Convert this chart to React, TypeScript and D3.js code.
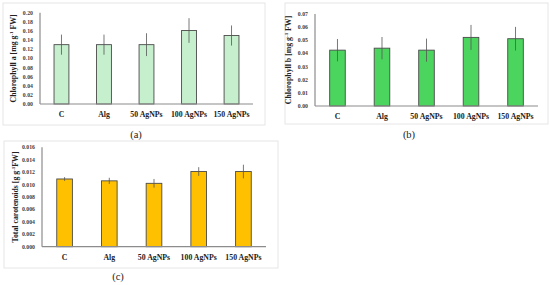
import React from "react";
import * as d3 from "d3";

const categories = ["C", "Alg", "50 AgNPs", "100 AgNPs", "150 AgNPs"];

const chlA = [0.13, 0.13, 0.13, 0.161, 0.15];
const chlAErr = [0.022, 0.022, 0.025, 0.027, 0.022];
const chlATicks = [0, 0.02, 0.04, 0.06, 0.08, 0.1, 0.12, 0.14, 0.16, 0.18, 0.2];

const chlB = [0.0425, 0.044, 0.0425, 0.0522, 0.0512];
const chlBErr = [0.0085, 0.0085, 0.0088, 0.0095, 0.009];
const chlBTicks = [0, 0.01, 0.02, 0.03, 0.04, 0.05, 0.06, 0.07];

const carot = [0.0109, 0.0106, 0.0102, 0.0121, 0.0121];
const carotErr = [0.0003, 0.0005, 0.0007, 0.0007, 0.0011];
const carotTicks = [0, 0.002, 0.004, 0.006, 0.008, 0.01, 0.012, 0.014, 0.016];

type PanelProps = {
  box: [number, number, number, number];
  x0: number;
  x1: number;
  yTop: number;
  yBottom: number;
  values: number[];
  errors: number[];
  ticks: number[];
  digits: number;
  fill: string;
  titleMain: string;
  titleSup: string;
  titleEnd: string;
  letter: string;
  letterX: number;
  letterY: number;
};

function Panel(p: PanelProps) {
  const max = p.ticks[p.ticks.length - 1];
  const x = d3.scaleBand().domain(categories).range([p.x0, p.x1]).paddingInner(0.65).paddingOuter(0.33);
  const y = d3.scaleLinear().domain([0, max]).range([p.yBottom, p.yTop]);
  const fmt = d3.format(`.${p.digits}f`);
  const midY = (p.yTop + p.yBottom) / 2;
  const titleX = p.x0 - 24;
  return (
    <g fontFamily="'Liberation Serif', 'DejaVu Serif', serif" fontWeight="bold">
      <rect x={p.box[0]} y={p.box[1]} width={p.box[2]} height={p.box[3]} fill="white" stroke="#e6e6e6" strokeWidth={1} />
      {p.ticks.map((t) => (
        <text key={t} x={p.x0 - 7} y={y(t)} dy="0.35em" textAnchor="end" fontSize={5.8} fill="#404040">
          {fmt(t)}
        </text>
      ))}
      {categories.map((c, i) => {
        const cx = (x(c) as number) + x.bandwidth() / 2;
        return (
          <g key={c}>
            <rect x={x(c)} y={y(p.values[i])} width={x.bandwidth()} height={p.yBottom - y(p.values[i])} fill={p.fill} stroke="#4a4a4a" strokeWidth={0.9} />
            <line x1={cx} x2={cx} y1={y(p.values[i] + p.errors[i])} y2={y(p.values[i] - p.errors[i])} stroke="#555" strokeWidth={0.8} />
            <text x={cx} y={p.yBottom + 13} textAnchor="middle" fontSize={7.8} fill="#222">
              {c}
            </text>
          </g>
        );
      })}
      <line x1={p.x0} x2={p.x0} y1={p.yTop} y2={p.yBottom} stroke="#8c8c8c" strokeWidth={1.2} />
      <line x1={p.x0} x2={p.x1} y1={p.yBottom} y2={p.yBottom} stroke="#8c8c8c" strokeWidth={1.2} />
      <text transform={`translate(${titleX},${midY}) rotate(-90)`} textAnchor="middle" fontSize={7.8} fill="#222">
        {p.titleMain}
        <tspan fontSize={5} dy={-2.8}>{p.titleSup}</tspan>
        <tspan dy={2.8}>{p.titleEnd}</tspan>
      </text>
      <text x={p.letterX} y={p.letterY} textAnchor="middle" fontSize={10.5} fontWeight="normal" fill="#222">
        {p.letter}
      </text>
    </g>
  );
}

export default function App() {
  return (
    <svg width={550} height={285} style={{ position: "absolute", left: 0, top: 0 }}>
      <rect width={550} height={285} fill="white" />
      <Panel
        box={[3, 3, 262, 122]}
        x0={40}
        x1={253}
        yTop={12.7}
        yBottom={104}
        values={chlA}
        errors={chlAErr}
        ticks={chlATicks}
        digits={2}
        fill="#c6efce"
        titleMain="Chlorophyll a [mg g"
        titleSup="-1"
        titleEnd=" FW]"
        letter="(a)"
        letterX={136}
        letterY={138}
      />
      <Panel
        box={[285, 3, 263, 121]}
        x0={315}
        x1={538}
        yTop={14}
        yBottom={106}
        values={chlB}
        errors={chlBErr}
        ticks={chlBTicks}
        digits={2}
        fill="#4cd55e"
        titleMain="Chlorophyll b [mg g"
        titleSup="-1"
        titleEnd=" FW]"
        letter="(b)"
        letterX={409}
        letterY={138}
      />
      <Panel
        box={[4, 141, 274, 127]}
        x0={42}
        x1={266}
        yTop={147.3}
        yBottom={246.7}
        values={carot}
        errors={carotErr}
        ticks={carotTicks}
        digits={3}
        fill="#ffc000"
        titleMain="Total carotenoids  [g g"
        titleSup="-1"
        titleEnd="FW]"
        letter="(c)"
        letterX={118}
        letterY={280}
      />
    </svg>
  );
}
